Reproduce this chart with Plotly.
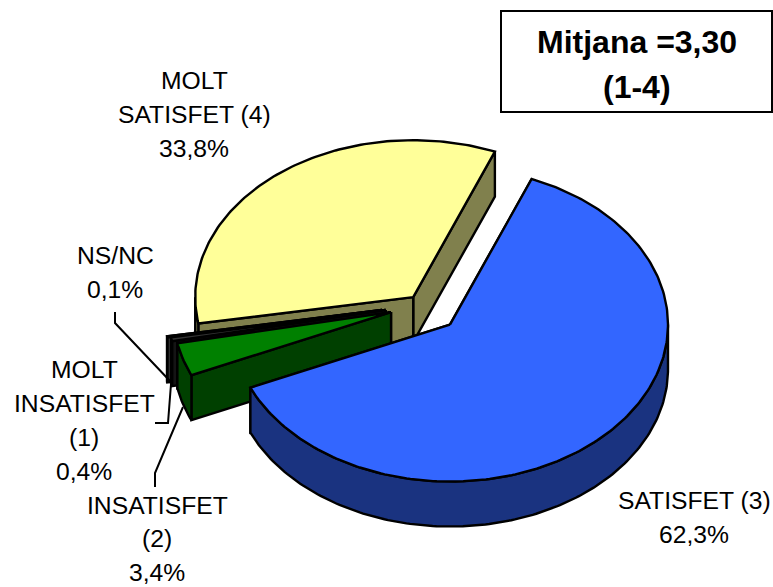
import numpy as np
import plotly.graph_objects as go

# --- data ---
categories = ["SATISFET (3)", "INSATISFET (2)", "MOLT INSATISFET (1)", "NS/NC", "MOLT SATISFET (4)"]
values = [62.3, 3.4, 0.4, 0.1, 33.8]
label_lines = [["SATISFET (3)"], ["INSATISFET", "(2)"], ["MOLT", "INSATISFET", "(1)"], ["NS/NC"], ["MOLT", "SATISFET (4)"]]
summary_lines = ["Mitjana =3,30", "(1-4)"]

# --- style and projection ---
top_colors = ["#3366FF", "#008000", "#333333", "#969696", "#FFFF99"]
side_colors = ["#1A3380", "#004000", "#141414", "#4B4B4B", "#80804D"]
pulls = [39, 32.5, 37, 40.6, 14]
draw_order = [4, 3, 2, 1, 0]
start_deg = 22
cx, cy, rx, ry, depth = 422, 305, 218, 157, 45
pull_scale_y = 0.72
label_x = [694, 157, 84, 115, 194]
label_y = [500, 505, 369, 255, 80]
line_steps = [34, 33.5, 34, 34, 34]
outline = 2.4
leaders = [
    ([115, 115, 170], [312, 323, 381]),
    ([155, 168, 171], [423, 423, 384]),
    ([155, 155, 183], [487, 473, 407]),
]

spans = np.array(values) / sum(values) * 360
starts = start_deg + np.concatenate([[0], np.cumsum(spans)[:-1]])

fig = go.Figure()


def poly(xs, ys, color):
    fig.add_trace(go.Scatter(
        x=list(xs) + [xs[0]], y=list(ys) + [ys[0]], mode="lines", fill="toself",
        fillcolor=color, line=dict(color="black", width=outline), hoverinfo="skip", showlegend=False))


def rim(ax, ay, a0, a1):
    n = max(2, int(abs(a1 - a0)) + 2)
    t = np.radians(np.linspace(a0, a1, n))
    return ax + rx * np.sin(t), ay - ry * np.cos(t)


for i in draw_order:
    s, e = starts[i], starts[i] + spans[i]
    mid = np.radians((s + e) / 2)
    ax = cx + pulls[i] * np.sin(mid)
    ay = cy - pulls[i] * pull_scale_y * np.cos(mid)
    px, py = rim(ax, ay, s, e)
    for j in (-1, 0):  # radial faces
        poly([ax, px[j], px[j], ax], [ay, py[j], py[j] + depth, ay + depth], side_colors[i])
    a0, a1 = max(s, 90), min(e, 270)
    if a1 > a0:  # outer wall, front half only
        wx, wy = rim(ax, ay, a0, a1)
        poly(np.r_[wx, wx[::-1]], np.r_[wy, wy[::-1] + depth], side_colors[i])
    poly(np.r_[ax, px], np.r_[ay, py], top_colors[i])

for lx, ly in leaders:
    fig.add_trace(go.Scatter(x=lx, y=ly, mode="lines", line=dict(color="black", width=2),
                             hoverinfo="skip", showlegend=False))


def pct(v):
    return f"{v:.1f}".replace(".", ",") + "%"


annotations = []
for i, lines in enumerate(label_lines):
    for k, txt in enumerate(lines + [pct(values[i])]):
        annotations.append(dict(x=label_x[i], y=label_y[i] + k * line_steps[i], text=txt, showarrow=False,
                                xanchor="center", yanchor="middle",
                                font=dict(family="Liberation Sans", size=24.7, color="black")))
for k, txt in enumerate(summary_lines):
    annotations.append(dict(x=637, y=42 + k * 45, text=f"<b>{txt}</b>", showarrow=False,
                            xanchor="center", yanchor="middle",
                            font=dict(family="Liberation Sans", size=32, color="black")))

fig.update_layout(
    width=773, height=587, margin=dict(l=0, r=0, t=0, b=0),
    paper_bgcolor="white", plot_bgcolor="white", showlegend=False,
    xaxis=dict(range=[0, 773], visible=False, fixedrange=True),
    yaxis=dict(range=[587, 0], visible=False, fixedrange=True),
    annotations=annotations,
    shapes=[dict(type="rect", x0=501, x1=772, y0=11, y1=112, line=dict(color="black", width=2),
                 fillcolor="white", layer="below")],
)
fig.write_html("out.html", post_script="document.body.style.margin='0';document.body.style.overflow='hidden';",
               config={"displayModeBar": False})
